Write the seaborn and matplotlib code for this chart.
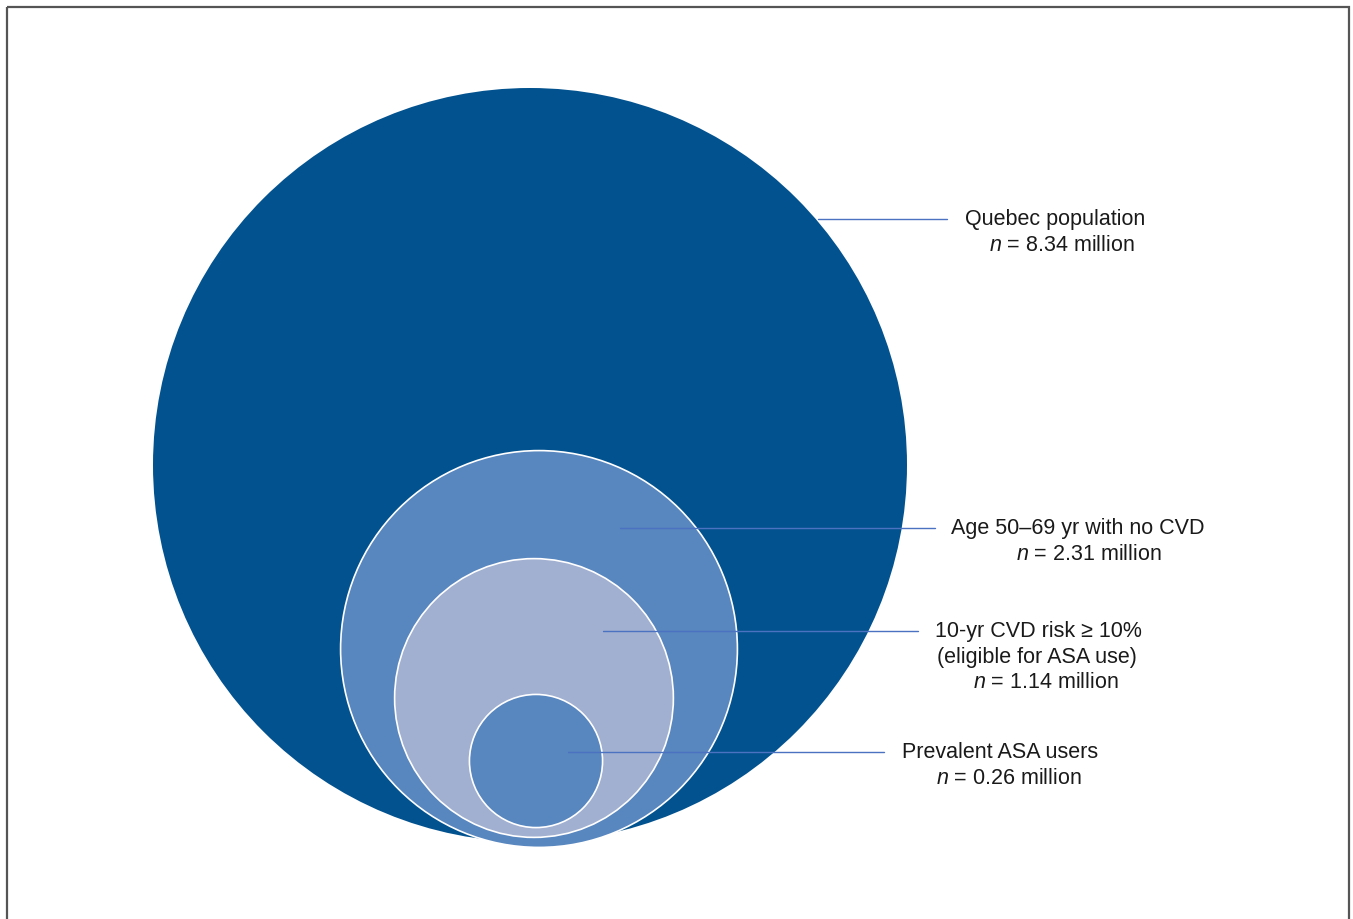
import numpy as np
import matplotlib
matplotlib.use("Agg")
import matplotlib.pyplot as plt
from matplotlib.patches import Circle, Rectangle
import seaborn as sns

# data: nested populations, in millions
groups = ["Quebec population",
          "Age 50\u201369 yr with no CVD",
          "10-yr CVD risk \u2265 10%\n(eligible for ASA use)",
          "Prevalent ASA users"]
n_million = [8.34, 2.31, 1.14, 0.26]

# layout (pixel space of the figure)
centers = [(530, 466), (539, 650), (534, 699), (536, 762)]
fills = ["#02528f", "#5886bf", "#a1afd0", "#5886bf"]
edges = ["none", "white", "white", "white"]
leader_y = [220, 529, 632, 753]
leader_x0 = [818, 620, 603, 568]
leader_x1 = [947, 935, 918, 884]
label_x = [[965, 989], [951, 1016], [935, 937, 973], [902, 936]]
line_gap = 25.5

sns.set_theme(style="white")
plt.rcParams["font.family"] = ["Liberation Sans", "DejaVu Sans"]
plt.rcParams["mathtext.fontset"] = "custom"
plt.rcParams["mathtext.it"] = "Liberation Sans:italic"
plt.rcParams["mathtext.rm"] = "Liberation Sans"

fig = plt.figure(figsize=(13.53, 9.2), dpi=100)
ax = fig.add_axes([0, 0, 1, 1])
ax.set_xlim(0, 1353)
ax.set_ylim(920, 0)
ax.set_aspect("equal")
ax.axis("off")

# area-proportional radius scale
r_max = 377
radii = r_max * np.sqrt(np.array(n_million) / n_million[0])

for (cx, cy), r, fc, ec in zip(centers, radii, fills, edges):
    ax.add_patch(Circle((cx, cy), r, facecolor=fc, edgecolor=ec,
                        linewidth=1.2, zorder=2))

for i, g in enumerate(groups):
    y = leader_y[i]
    ax.plot([leader_x0[i], leader_x1[i]], [y, y], color="#4a72c0",
            linewidth=1.0, zorder=3)
    lines = g.split("\n") + [r"$\it{n}$ = %.2f million" % n_million[i]]
    for j, txt in enumerate(lines):
        ax.text(label_x[i][j], y + j * line_gap, txt, fontsize=15.5,
                color="#1a1a1a", ha="left", va="center", zorder=4)

# outer frame (open at bottom)
ax.add_patch(Rectangle((7, 8), 1342, 940, fill=False, edgecolor="#555555",
                       linewidth=1.6, zorder=5, clip_on=False))

fig.savefig("out.png", dpi=100)
